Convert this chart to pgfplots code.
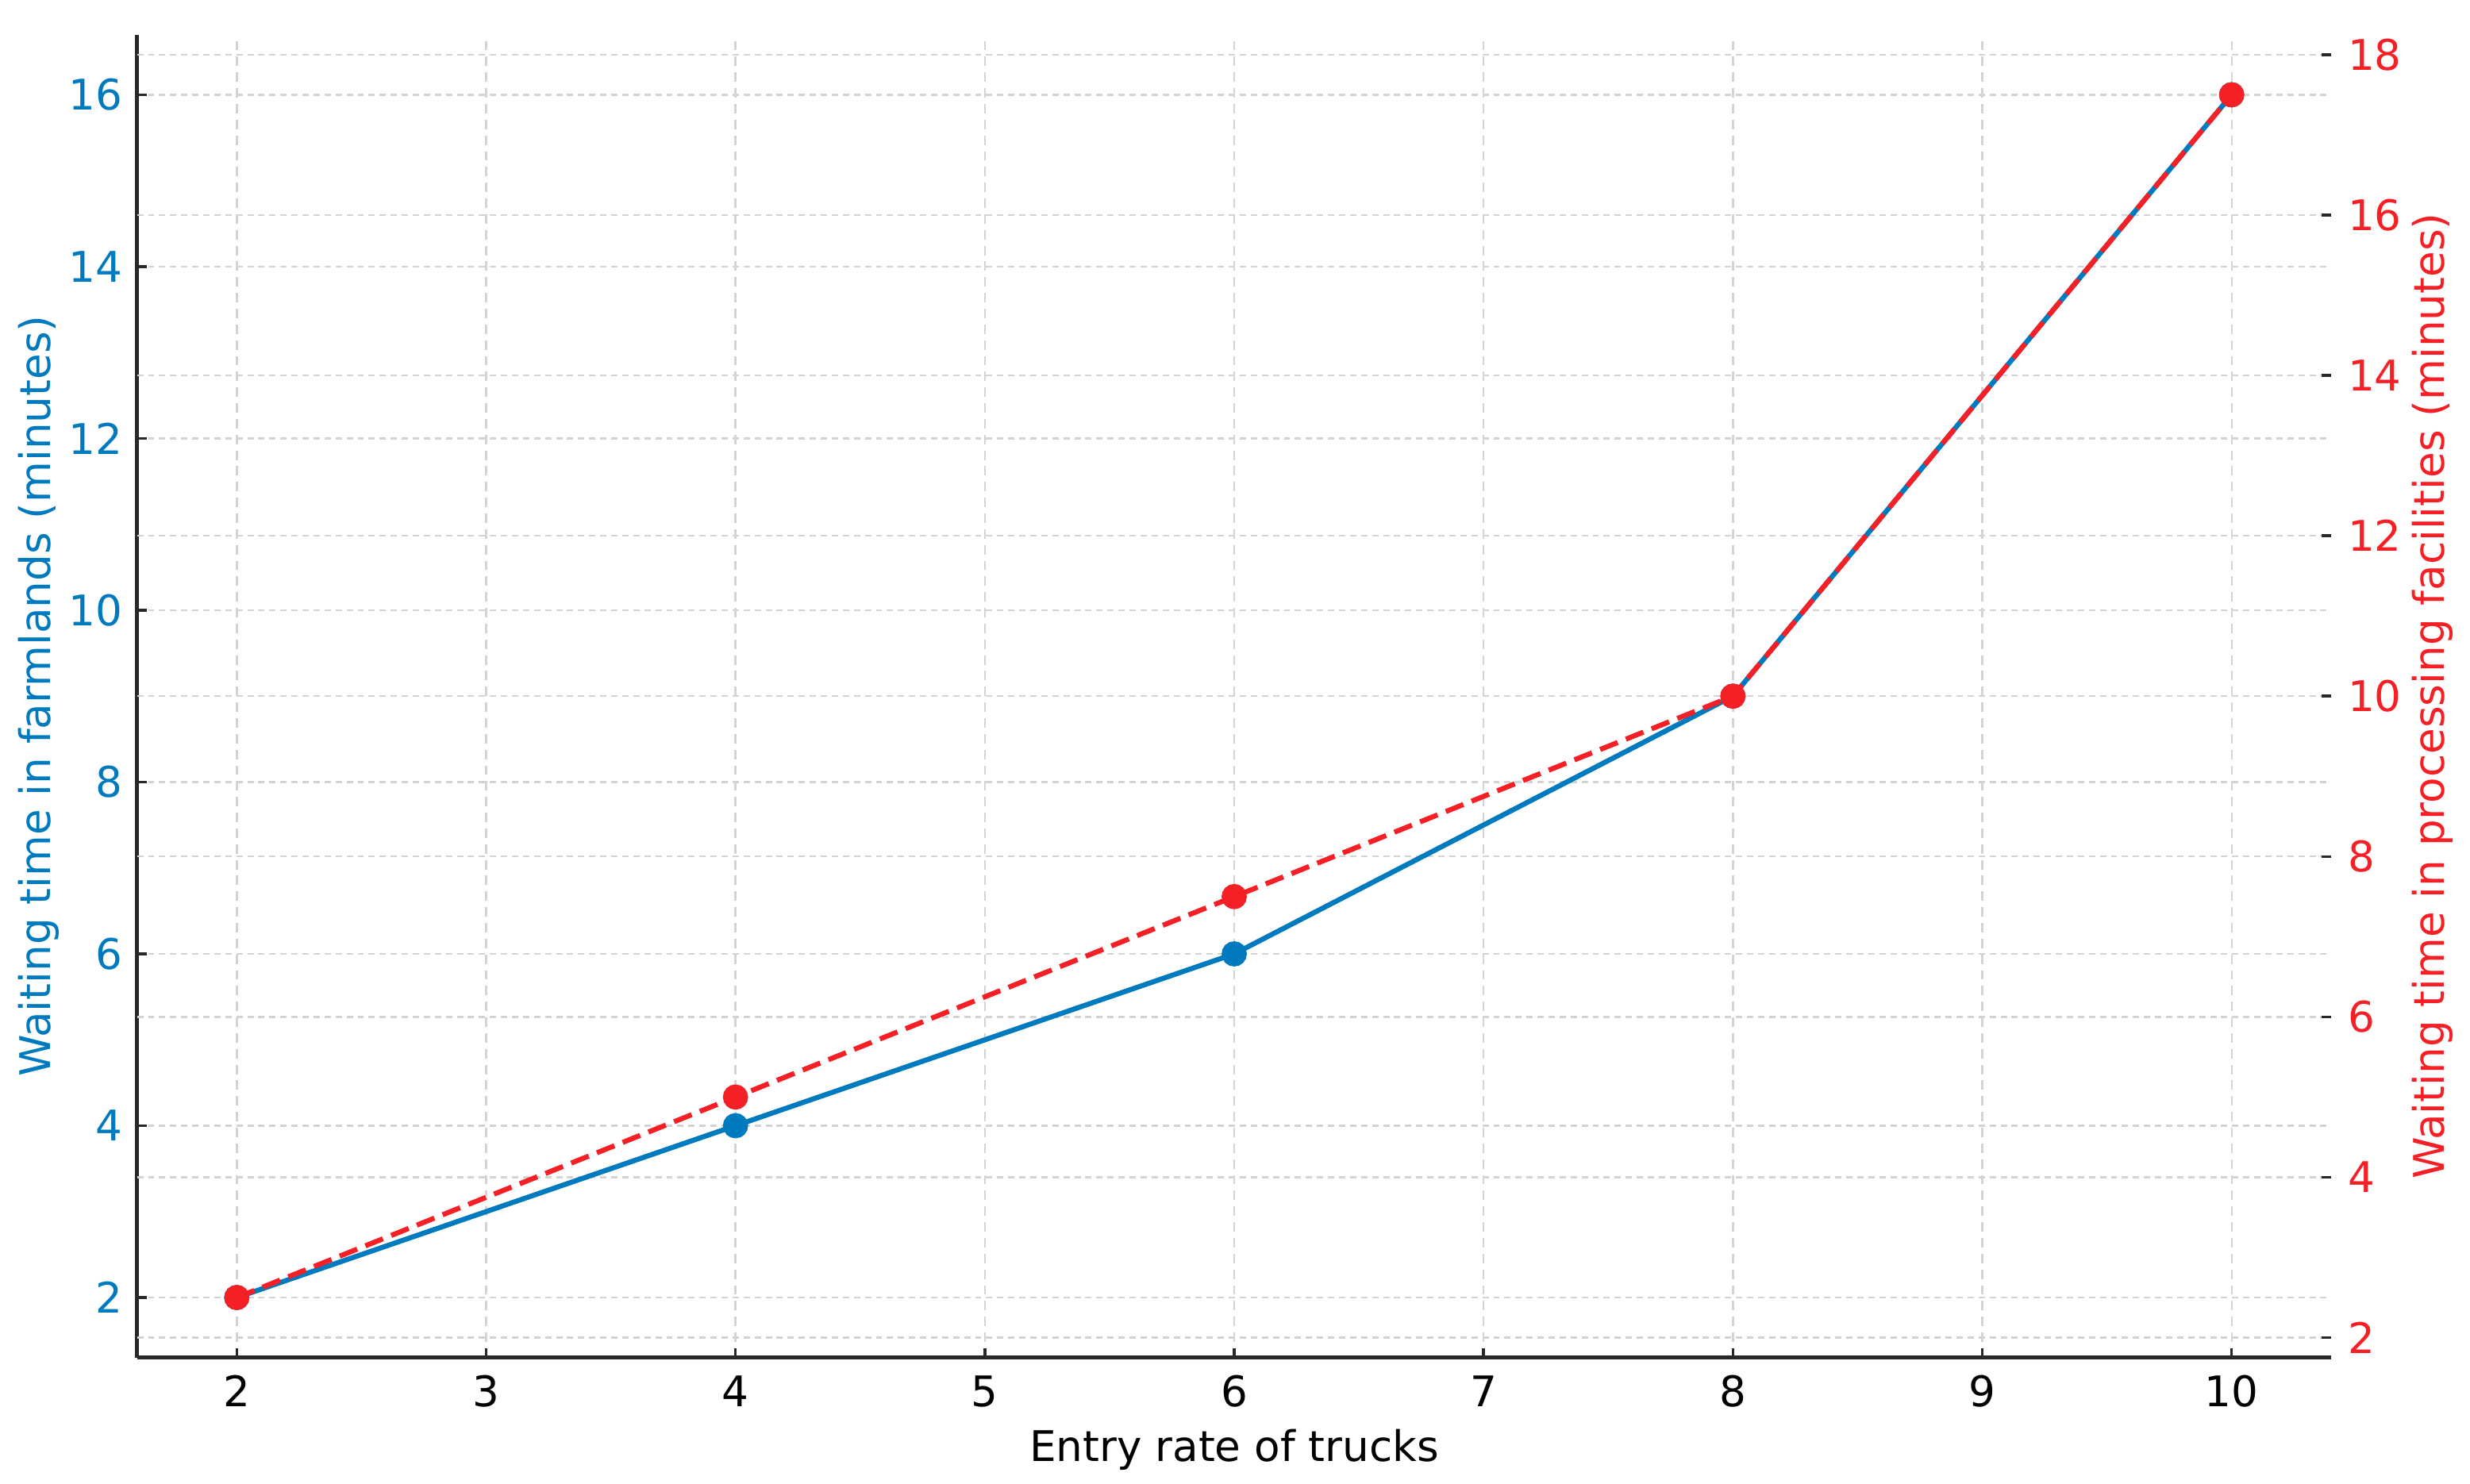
\documentclass[border=0pt]{standalone}
\usepackage{fontspec}
\setmainfont{DejaVu Sans}
\usepackage{pgfplots}
\pgfplotsset{compat=1.18}

\definecolor{farmblue}{RGB}{0,122,190}
\definecolor{procred}{RGB}{245,32,38}
\definecolor{gridgray}{RGB}{212,212,212}
\definecolor{spinegray}{RGB}{40,40,40}

\newcommand{\lblfont}{\fontsize{13.4}{16}\selectfont}

\pgfplotsset{
  twin/.style={
    scale only axis, width=696.5pt, height=420pt,
    xmin=1.6, xmax=10.4,
    tick align=inside, major tick length=3pt,
    tick style={spinegray, line width=0.9pt},
    /pgf/number format/assume math mode=true,
    tick label style={font=\lblfont},
    label style={font=\lblfont},
  }
}

\begin{document}
\begin{tikzpicture}
% left axis: farmlands
\begin{axis}[twin,
  ymin=1.3, ymax=16.7,
  axis x line*=bottom, axis y line*=left,
  axis line style={spinegray, line width=1.2pt, -},
  xtick={2,...,10}, ytick={2,4,...,16},
  xmajorgrids, ymajorgrids,
  x grid style={gridgray, line width=0.6pt, dash pattern=on 3pt off 2pt},
  y grid style={gridgray, line width=0.6pt, dash pattern=on 2pt off 1.5pt},
  % grid lines of the right axis (2,4,...,18) in left-axis units
  extra y ticks={1.5333,3.4,5.2667,7.1333,9.0,10.8667,12.7333,14.6,16.4667},
  extra y tick labels={},
  extra y tick style={major tick length=0pt, grid=major},
  yticklabel style={farmblue, anchor=east, inner sep=0pt, xshift=-4.5pt},
  xticklabel style={anchor=north, inner sep=0pt, yshift=-5.5pt},
  xlabel={Entry rate of trucks},
  xlabel style={at={(axis description cs:0.5,0)}, anchor=base, yshift=-32.8pt},
  ylabel={Waiting time in farmlands (minutes)},
  ylabel style={farmblue, at={(axis description cs:-0.0395,0.5)}, anchor=base},
]
\addplot[farmblue, line width=1.6pt, mark=*, mark size=3.2pt, mark options={solid}]
  coordinates {(2,2) (4,4) (6,6) (8,9) (10,16)};
\end{axis}

% right axis: processing facilities
\begin{axis}[twin,
  ymin=1.75, ymax=18.25,
  axis x line=none, axis y line*=right,
  y axis line style={draw=none},
  ytick={2,4,...,18},
  yticklabel style={procred, anchor=west, inner sep=0pt, xshift=5pt},
  ylabel={Waiting time in processing facilities (minutes)},
  ylabel style={procred, at={(axis description cs:1.0514,0.5)}, anchor=base},
]
\addplot[procred, line width=1.6pt, dash pattern=on 6pt off 2.8pt,
  mark=*, mark size=3.2pt, mark options={solid}]
  coordinates {(2,2.5) (4,5) (6,7.5) (8,10) (10,17.5)};
\end{axis}

\path (current axis.south west) ++(-43.5pt,-40pt);
\path (current axis.north east) ++(44pt,11pt);
\end{tikzpicture}
\end{document}
